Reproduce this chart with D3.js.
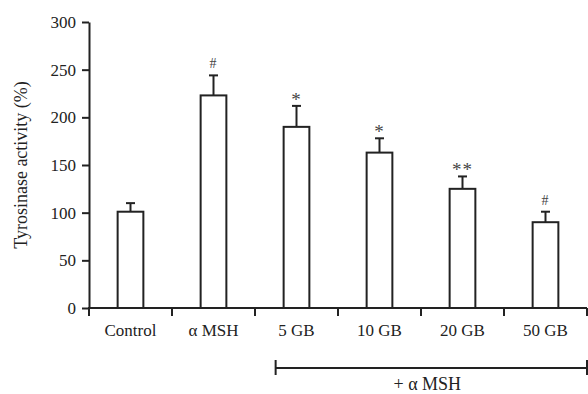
<!DOCTYPE html>
<html>
<head>
<meta charset="utf-8">
<script src="https://cdn.jsdelivr.net/npm/d3@7"></script>
<style>
  body { margin: 0; background: #fff; }
  text { font-family: "Liberation Serif", "Times New Roman", serif; fill: #222; }
</style>
</head>
<body>
<div id="chart"></div>
<script>
var categories = ["Control", "\u03b1 MSH", "5 GB", "10 GB", "20 GB", "50 GB"];
var values = [101, 223, 190, 163, 125, 90];
var errors = [9, 21, 22, 15, 13, 11];
var marks = ["", "#", "*", "*", "**", "#"];
var yTicks = [0, 50, 100, 150, 200, 250, 300];

var width = 588, height = 394;
var mLeft = 89, mRight = 587, mTop = 22, mBottom = 308;

var svg = d3.select("#chart").append("svg")
  .attr("width", width)
  .attr("height", height);

var x = d3.scaleBand().domain(categories).range([mLeft, mRight]).padding(0);
var y = d3.scaleLinear().domain([0, 300]).range([mBottom, mTop]);
var barW = x.bandwidth() * 0.31;

// y axis
var yAxis = svg.append("g")
  .attr("transform", "translate(" + mLeft + ",0)")
  .call(d3.axisLeft(y).tickValues(yTicks).tickSize(7).tickSizeOuter(0).tickPadding(6));
yAxis.select(".domain").attr("stroke", "#222").attr("stroke-width", 2);
yAxis.selectAll(".tick line").attr("stroke", "#222").attr("stroke-width", 2);
yAxis.selectAll("text").style("font-size", "17px").attr("fill", "#222")
  .style("font-family", "'Liberation Serif', serif");

// x axis line and ticks at band edges
svg.append("line")
  .attr("x1", mLeft - 1).attr("x2", mRight)
  .attr("y1", y(0)).attr("y2", y(0))
  .attr("stroke", "#222").attr("stroke-width", 2);
var edges = categories.map(function(c) { return x(c); }).concat([mRight]);
svg.selectAll(".xtick")
  .data(edges)
  .enter().append("line")
  .attr("class", "xtick")
  .attr("x1", function(d) { return d; }).attr("x2", function(d) { return d; })
  .attr("y1", y(0)).attr("y2", y(0) + 8)
  .attr("stroke", "#222").attr("stroke-width", 2);
svg.selectAll(".xlabel")
  .data(categories)
  .enter().append("text")
  .attr("class", "xlabel")
  .attr("x", function(d) { return x(d) + x.bandwidth() / 2; })
  .attr("y", 336)
  .attr("text-anchor", "middle")
  .style("font-size", "17px")
  .text(function(d) { return d; });

// bars
var g = svg.selectAll(".bar")
  .data(categories)
  .enter().append("g")
  .attr("class", "bar");

g.append("line")
  .attr("x1", function(d) { return x(d) + x.bandwidth() / 2; })
  .attr("x2", function(d) { return x(d) + x.bandwidth() / 2; })
  .attr("y1", function(d, i) { return y(values[i]); })
  .attr("y2", function(d, i) { return y(values[i] + errors[i]); })
  .attr("stroke", "#222").attr("stroke-width", 2);
g.append("line")
  .attr("x1", function(d) { return x(d) + x.bandwidth() / 2 - 4.5; })
  .attr("x2", function(d) { return x(d) + x.bandwidth() / 2 + 4.5; })
  .attr("y1", function(d, i) { return y(values[i] + errors[i]); })
  .attr("y2", function(d, i) { return y(values[i] + errors[i]); })
  .attr("stroke", "#222").attr("stroke-width", 2);
g.append("rect")
  .attr("x", function(d) { return x(d) + x.bandwidth() / 2 - barW / 2; })
  .attr("width", barW)
  .attr("y", function(d, i) { return y(values[i]); })
  .attr("height", function(d, i) { return y(0) - y(values[i]); })
  .attr("fill", "#fff")
  .attr("stroke", "#222").attr("stroke-width", 2);
g.append("text")
  .attr("x", function(d) { return x(d) + x.bandwidth() / 2; })
  .attr("y", function(d, i) { return y(values[i] + errors[i]) - (marks[i].indexOf("*") >= 0 ? 0 : 7); })
  .attr("text-anchor", "middle")
  .style("font-size", function(d, i) { return marks[i].indexOf("*") >= 0 ? "19px" : "14px"; })
  .style("letter-spacing", "1px")
  .style("fill", "#444")
  .text(function(d, i) { return marks[i]; });

// bracket for + alpha MSH
var bx1 = x("5 GB") + x.bandwidth() / 2 - barW / 2 - 8, bx2 = mRight, by = 368;
svg.append("line").attr("x1", bx1).attr("x2", bx2).attr("y1", by).attr("y2", by)
  .attr("stroke", "#222").attr("stroke-width", 2);
[bx1, bx2].forEach(function(bx) {
  svg.append("line").attr("x1", bx).attr("x2", bx).attr("y1", by - 8).attr("y2", by + 7)
    .attr("stroke", "#222").attr("stroke-width", 2);
});
svg.append("text")
  .attr("x", (bx1 + bx2) / 2 - 4)
  .attr("y", 390)
  .attr("text-anchor", "middle")
  .style("font-size", "18px")
  .text("+ \u03b1 MSH");

// y label
svg.append("text")
  .attr("transform", "translate(27," + ((mTop + mBottom) / 2) + ") rotate(-90)")
  .attr("text-anchor", "middle")
  .style("font-size", "18px")
  .text("Tyrosinase activity (%)");
</script>
</body>
</html>
